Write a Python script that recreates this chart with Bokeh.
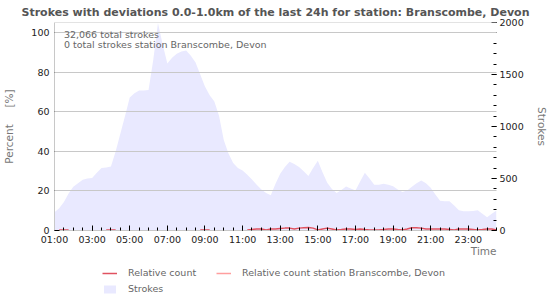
from bokeh.plotting import figure
from bokeh.layouts import column
from bokeh.models import (Range1d, LinearAxis, FixedTicker, Label, Legend,
                          LegendItem, Span, ColumnDataSource, Title)
from bokeh.embed import file_html
from bokeh.resources import INLINE
import numpy as np

# ---------------- data ----------------
title_text = "Strokes with deviations 0.0-1.0km of the last 24h for station: Branscombe, Devon"
total_text = "32,066 total strokes"
station_text = "0 total strokes station Branscombe, Devon"

times = [
    "01:00", "01:15", "01:30", "01:45", "02:00", "02:15", "02:30", "02:45",
    "03:00", "03:15", "03:30", "03:45", "04:00", "04:15", "04:30", "04:45",
    "05:00", "05:15", "05:30", "05:45", "06:00", "06:15", "06:30", "06:45",
    "07:00", "07:15", "07:30", "07:45", "08:00", "08:15", "08:30", "08:45",
    "09:00", "09:15", "09:30", "09:45", "10:00", "10:15", "10:30", "10:45",
    "11:00", "11:15", "11:30", "11:45", "12:00", "12:15", "12:30", "12:45",
    "13:00", "13:15", "13:30", "13:45", "14:00", "14:15", "14:30", "14:45",
    "15:00", "15:15", "15:30", "15:45", "16:00", "16:15", "16:30", "16:45",
    "17:00", "17:15", "17:30", "17:45", "18:00", "18:15", "18:30", "18:45",
    "19:00", "19:15", "19:30", "19:45", "20:00", "20:15", "20:30", "20:45",
    "21:00", "21:15", "21:30", "21:45", "22:00", "22:15", "22:30", "22:45",
    "23:00", "23:15", "23:30", "23:45", "00:00", "00:15", "00:30",
]

strokes = [
    176, 215, 275, 355, 420, 455, 487, 500,
    505, 555, 600, 605, 615, 760, 930, 1100,
    1280, 1320, 1346, 1346, 1350, 1640, 1995, 1790,
    1605, 1660, 1700, 1720, 1730, 1680, 1615, 1500,
    1385, 1300, 1240, 1100, 870, 740, 650, 600,
    577, 535, 490, 440, 395, 360, 340, 450,
    545, 610, 660, 640, 610, 570, 525, 600,
    670, 560, 460, 400, 360, 390, 423, 405,
    385, 470, 555, 500, 440, 440, 449, 440,
    425, 395, 370, 385, 420, 455, 480, 455,
    410, 345, 285, 282, 282, 240, 195, 186,
    186, 188, 195, 160, 128, 160, 192,
]

N = None
relative_count = [
    N, 0.3, 0.3, 0.3, N, N, N, N,
    N, N, N, 0.3, 0.3, 0.3, N, N,
    N, N, N, N, N, N, N, N,
    N, N, N, N, N, N, N, 0.3,
    0.3, 0.3, N, N, N, N, N, N,
    N, 0.3, 0.5, 0.8, 0.8, 0.3, 0.7, 0.7,
    1.0, 1.2, 1.2, 0.8, 1.2, 1.35, 1.5, 1.2,
    0.3, 0.8, 1.2, 0.8, 0.3, 0.5, 0.8, 0.8,
    0.5, 0.8, 0.5, 0.3, 0.3, 0.3, 0.5, 0.8,
    0.8, 0.5, 0.3, 0.8, 1.35, 1.35, 1.2, 0.8,
    0.8, 0.7, 0.8, 0.7, 0.5, 0.3, 0.7, 0.7,
    0.7, 0.5, 0.3, 0.5, 0.8, 0.7, 0.3,
]

relative_count_station = [N]  # no strokes at the station

x_tick_hours = [1, 3, 5, 7, 9, 11, 13, 15, 17, 19, 21, 23]
x_tick_labels = ["01:00", "03:00", "05:00", "07:00", "09:00", "11:00",
                 "13:00", "15:00", "17:00", "19:00", "21:00", "23:00"]
pct_ticks = [0, 20, 40, 60, 80, 100]
stroke_ticks = [0, 500, 1000, 1500, 2000]

legend_labels = ["Relative count", "Relative count station Branscombe, Devon", "Strokes"]


def to_hours(t):
    h, m = t.split(":")
    v = int(h) + int(m) / 60.0
    return v if v >= 1 else v + 24


def nanify(vals):
    return [np.nan if v is None else v for v in vals]


hours = [to_hours(t) for t in times]
rel = nanify(relative_count)

FONT = "DejaVu Sans"
RED = "#e05260"
PINK = "#ff9e9e"
LAVENDER = "#e9e9ff"

# ---------------- main figure ----------------
p = figure(width=550, height=261, output_backend="svg", toolbar_location=None,
           x_range=Range1d(1, 24.5), y_range=Range1d(0, 105.05),
           min_border_left=50, min_border_right=50, min_border_top=22,
           min_border_bottom=31)
p.extra_y_ranges = {"strokes": Range1d(0, 2000)}

p.outline_line_color = None
p.background_fill_color = "white"
p.border_fill_color = "white"

src = ColumnDataSource(dict(h=hours, s=strokes, rel=rel))
p.varea(x="h", y1=0, y2="s", source=src, y_range_name="strokes",
        fill_color=LAVENDER)
p.line(x="h", y="rel", source=src, line_color=RED, line_width=1.5)

# top frame line
p.add_layout(Span(location=105.05, dimension="width", line_color="#c8c8c8",
                  line_width=1))

# grid
p.xgrid.visible = False
p.ygrid.ticker = FixedTicker(ticks=pct_ticks[1:])
p.ygrid.grid_line_color = "#c8c8c8"
p.ygrid.level = "guide"

# bottom axis
xa = p.xaxis[0]
xa.ticker = FixedTicker(ticks=x_tick_hours,
                        minor_ticks=[1.5 + 0.5 * i for i in range(47)])
xa.major_label_overrides = {h: l for h, l in zip(x_tick_hours, x_tick_labels)}
xa.major_tick_in = 5
xa.major_tick_out = 0
xa.minor_tick_in = 3
xa.minor_tick_out = 0
xa.axis_line_color = "#c8c8c8"
xa.major_tick_line_color = "black"
xa.minor_tick_line_color = "black"
xa.major_label_standoff = 3
xa.major_label_text_font = FONT
xa.major_label_text_font_size = "9.5px"
xa.major_label_text_color = "#222222"

# left axis
ya = p.yaxis[0]
ya.ticker = FixedTicker(ticks=pct_ticks)
ya.major_tick_in = 5
ya.major_tick_out = 0
ya.minor_tick_line_color = None
ya.axis_line_color = "#c8c8c8"
ya.major_tick_line_color = "black"
ya.major_label_standoff = 5
ya.major_label_text_font = FONT
ya.major_label_text_font_size = "9.5px"
ya.major_label_text_color = "#222222"
ya.axis_label = "Percent\u00a0\u00a0\u00a0\u00a0\u00a0[%]"
ya.axis_label_text_font = FONT
ya.axis_label_text_font_size = "10.5px"
ya.axis_label_text_font_style = "normal"
ya.axis_label_text_color = "#777777"
ya.axis_label_standoff = 13

# right axis
ra = LinearAxis(y_range_name="strokes",
                ticker=FixedTicker(ticks=stroke_ticks,
                                   minor_ticks=list(range(0, 2001, 100))))
ra.major_tick_in = 5
ra.major_tick_out = 0
ra.minor_tick_in = 3
ra.minor_tick_out = 0
ra.axis_line_color = None
ra.major_tick_line_color = "black"
ra.minor_tick_line_color = "black"
ra.major_label_standoff = 3
ra.major_label_text_font = FONT
ra.major_label_text_font_size = "9.5px"
ra.major_label_text_color = "#222222"
ra.axis_label = "Strokes"
ra.axis_label_text_font = FONT
ra.axis_label_text_font_size = "10.5px"
ra.axis_label_text_font_style = "normal"
ra.axis_label_text_color = "#777777"
ra.axis_label_standoff = 9
p.add_layout(ra, "right")

# title
p.title.text = title_text
p.title.align = "center"
p.title.text_font = FONT
p.title.text_font_size = "11px"
p.title.text_font_style = "bold"
p.title.text_color = "#555555"
p.title.standoff = 7

# x axis name, right aligned under the axis
p.add_layout(Title(text="Time", align="right", text_font=FONT,
                   text_font_size="10.5px", text_font_style="normal",
                   text_color="#777777", standoff=-10), "below")

# in-plot texts
p.add_layout(Label(x=1.5, y=99, text=total_text, text_font=FONT,
                   text_font_size="9.5px", text_color="#666666",
                   text_baseline="middle"))
p.add_layout(Label(x=1.5, y=94, text=station_text, text_font=FONT,
                   text_font_size="9.5px", text_color="#666666",
                   text_baseline="middle"))

# ---------------- legend strip ----------------
q = figure(width=550, height=39, output_backend="svg", toolbar_location=None,
           x_range=Range1d(0, 550), y_range=Range1d(0, 39),
           x_axis_type=None, y_axis_type=None, min_border=0)
q.outline_line_color = None
q.xgrid.visible = False
q.ygrid.visible = False
empty = nanify(relative_count_station)
l_red = q.line(x=empty, y=empty, line_color=RED, line_width=1.5)
l_pink = q.line(x=empty, y=empty, line_color=PINK, line_width=1.5)
l_area = q.varea(x=empty, y1=empty, y2=empty, fill_color=LAVENDER)

legend = Legend(items=[
    LegendItem(label=legend_labels[0], renderers=[l_red]),
    LegendItem(label=legend_labels[1], renderers=[l_pink]),
    LegendItem(label=legend_labels[2], renderers=[l_area]),
], location=(48, 6), orientation="horizontal", ncols=2)
legend.glyph_width = 15
legend.glyph_height = 10
legend.label_height = 10
legend.label_width = 83
legend.spacing = 5
legend.padding = 0
legend.margin = 0
legend.label_standoff = 11
legend.label_text_font = FONT
legend.label_text_font_size = "9.5px"
legend.label_text_color = "#666666"
legend.border_line_color = None
legend.background_fill_alpha = 0
q.add_layout(legend, "center")

layout = column(p, q, spacing=0)
open("out.html", "w").write(file_html(layout, INLINE))
